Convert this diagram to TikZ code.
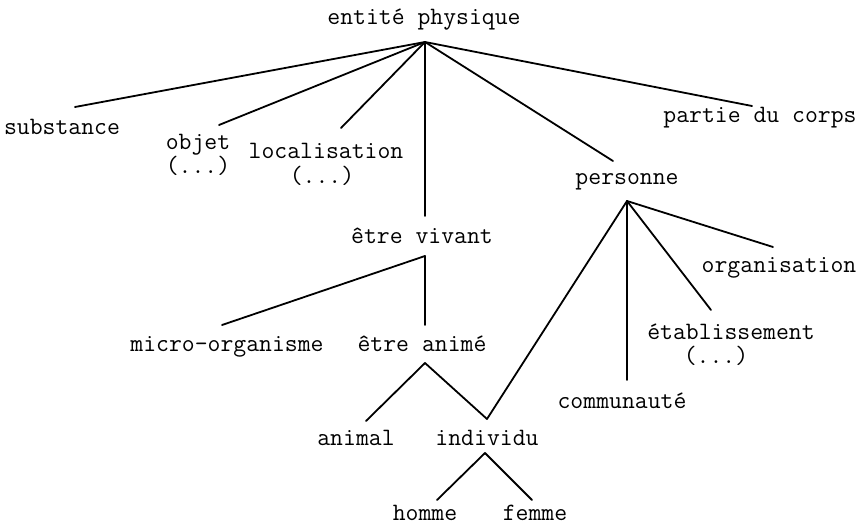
\documentclass[tikz,border=0pt]{standalone}
\usepackage{fontspec}
\setmonofont{Latin Modern Mono}
\begin{document}
\begin{tikzpicture}[x=1bp,y=-1bp,
  term/.style={anchor=base,inner sep=0pt,font=\ttfamily\fontsize{25.1}{27}\selectfont},
  branch/.style={line width=1.8bp,line cap=round,line join=round}]
\useasboundingbox (0,0) rectangle (861,527);

% labels
\node[term] (phys)     at (424,25)  {entité physique};
\node[term] (subst)    at (62,135)  {substance};
\node[term] (objet)    at (198,150) {objet};
\node[term] (objdots)  at (198,174) {(...)};
\node[term] (loc)      at (326,159) {localisation};
\node[term] (locdots)  at (322,184) {(...)};
\node[term] (partie)   at (760,123) {partie du corps};
\node[term] (pers)     at (627,185) {personne};
\node[term] (vivant)   at (422,244) {être vivant};
\node[term] (micro)    at (227,351) {micro-organisme};
\node[term] (anime)    at (422,351) {être animé};
\node[term] (animal)   at (356,445) {animal};
\node[term] (indiv)    at (487,445) {individu};
\node[term] (homme)    at (425,520) {homme};
\node[term] (femme)    at (535,520) {femme};
\node[term] (comm)     at (622,408) {communauté};
\node[term] (etab)     at (731,340) {établissement};
\node[term] (etabdots) at (716,363) {(...)};
\node[term] (orga)     at (779,273) {organisation};

% branching points below each parent
\coordinate (aPhys)  at (425,42);
\coordinate (aViv)   at (425,256);
\coordinate (aAnime) at (425,363);
\coordinate (aIndiv) at (485,453);
\coordinate (aPers)  at (627,201);

% free ends above each child
\coordinate (eSubst)  at (75,107);
\coordinate (eObjet)  at (219,125);
\coordinate (eLoc)    at (341,128);
\coordinate (eViv)    at (425,216);
\coordinate (ePers)   at (613,161);
\coordinate (ePartie) at (752,106);
\coordinate (eMicro)  at (222,325);
\coordinate (eAnime)  at (425,325);
\coordinate (eAnimal) at (366,421);
\coordinate (eIndiv)  at (487,419);
\coordinate (eHomme)  at (437,500);
\coordinate (eFemme)  at (532,500);
\coordinate (eComm)   at (627,380);
\coordinate (eEtab)   at (711,310);
\coordinate (eOrg)    at (773,247);

% branches
\foreach \e in {eSubst,eObjet,eLoc,eViv,ePers,ePartie}
  \draw[branch] (aPhys) -- (\e);
\foreach \e in {eMicro,eAnime}
  \draw[branch] (aViv) -- (\e);
\foreach \e in {eAnimal,eIndiv}
  \draw[branch] (aAnime) -- (\e);
\foreach \e in {eHomme,eFemme}
  \draw[branch] (aIndiv) -- (\e);
\foreach \e in {eIndiv,eComm,eEtab,eOrg}
  \draw[branch] (aPers) -- (\e);
\end{tikzpicture}
\end{document}
